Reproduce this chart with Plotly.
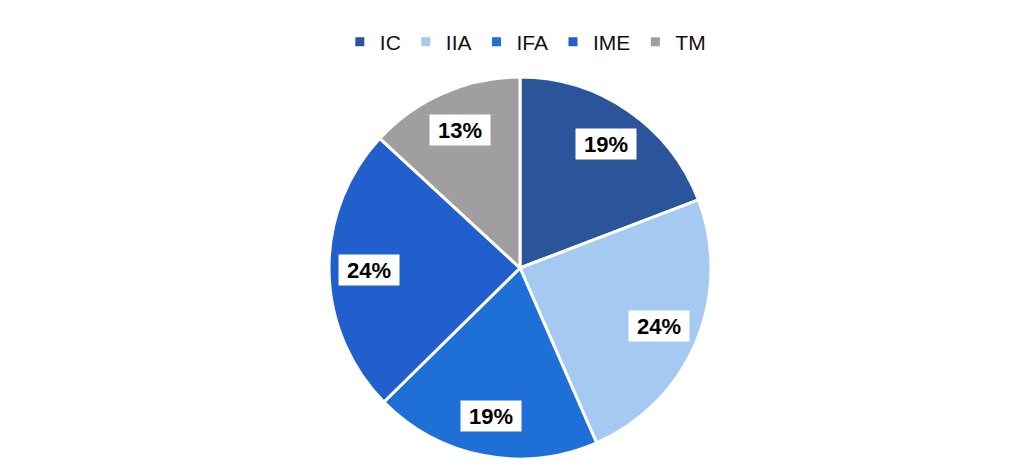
import math
import plotly.graph_objects as go

categories = ["IC", "IIA", "IFA", "IME", "TM"]
values = [19, 24, 19, 24, 13]
colors = ["#2B559A", "#A5C9F0", "#1E6FD6", "#2160CC", "#A09E9E"]

W, H = 1030, 473
cx, cy, r = 520, 268, 191  # pixel centre / radius used for the pie domain

dom_x = [(cx - r) / W, (cx + r) / W]
dom_y = [(H - cy - r) / H, (H - cy + r) / H]

fig = go.Figure(go.Pie(
    labels=categories,
    values=values,
    sort=False,
    direction="clockwise",
    rotation=0,
    marker=dict(colors=colors, line=dict(color="white", width=3)),
    textinfo="none",
    hoverinfo="label+percent",
    domain=dict(x=dom_x, y=dom_y),
))

# labels in white boxes, placed along each slice's mid-angle
total = sum(values)
cum = 0
for v in values:
    mid = (cum + v / 2) / total * 2 * math.pi
    cum += v
    px = cx + 0.79 * r * math.sin(mid)
    py = cy - 0.79 * r * math.cos(mid)
    fig.add_annotation(
        x=px / W, y=(H - py) / H, xref="paper", yref="paper",
        xanchor="center", yanchor="middle",
        text=f"<b>{round(v / total * 100)}%</b>",
        showarrow=False,
        font=dict(family="Liberation Sans, Arial, sans-serif", size=22, color="black"),
        bgcolor="white", width=58, height=28, borderpad=1,
    )

fig.update_layout(
    width=W, height=H,
    margin=dict(l=0, r=0, t=0, b=0),
    paper_bgcolor="white",
    plot_bgcolor="white",
    legend=dict(
        orientation="h", x=0.51, xanchor="center", y=(H - 42) / H, yanchor="middle",
        font=dict(family="Liberation Sans, Arial, sans-serif", size=21, color="#111111"),
        itemwidth=30, traceorder="normal",
    ),
)

fig.write_html("out.html", config={"displayModeBar": False},
               post_script="document.body.style.margin='0px';")
